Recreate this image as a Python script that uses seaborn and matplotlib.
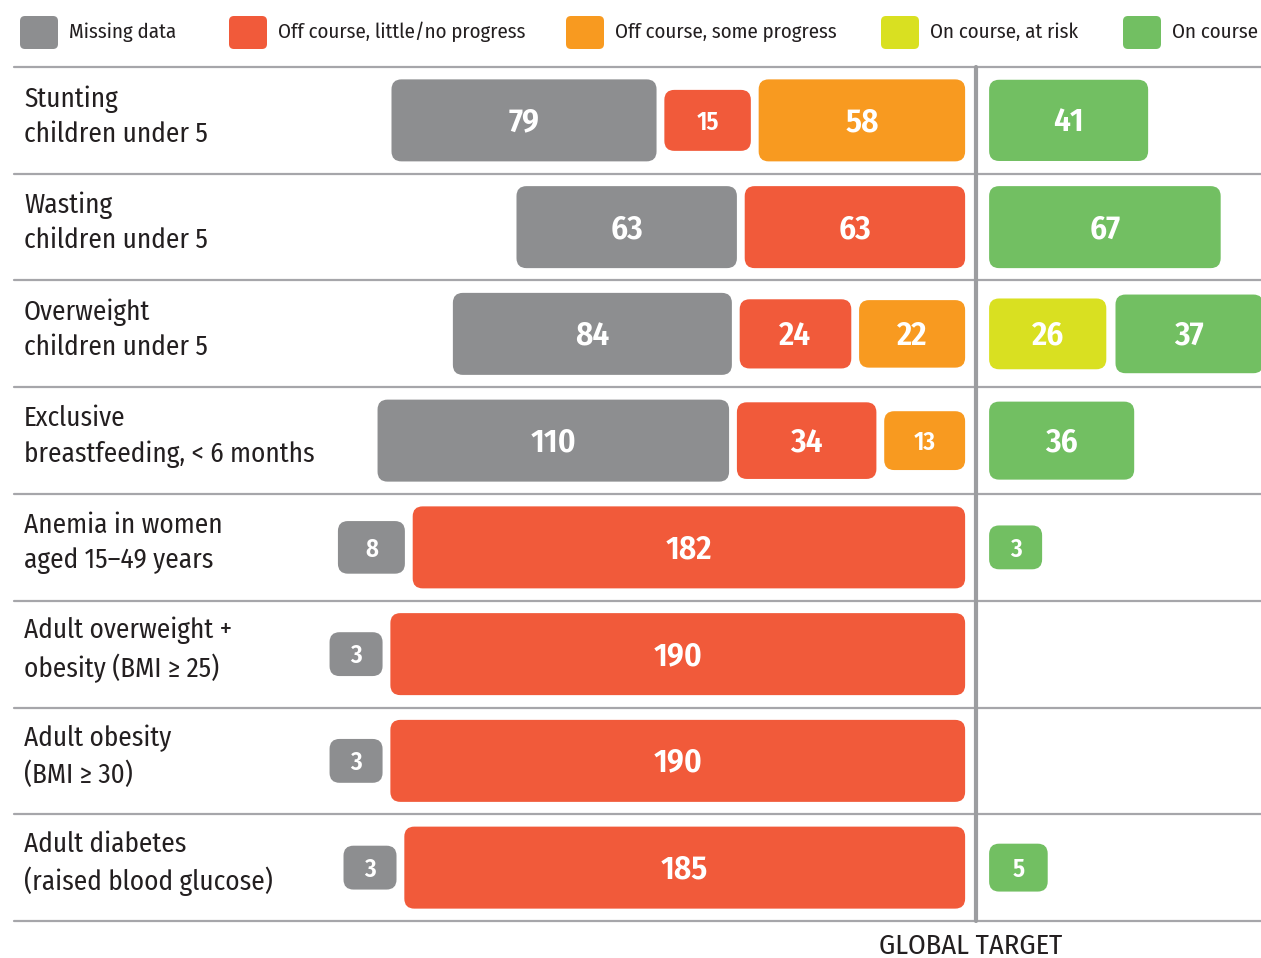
import numpy as np
import pandas as pd
import matplotlib as mpl
import matplotlib.pyplot as plt
import matplotlib.font_manager as fm
import seaborn as sns
from matplotlib.patches import FancyBboxPatch

# data (number of countries per status)
indicators = [
    'Stunting\nchildren under 5',
    'Wasting\nchildren under 5',
    'Overweight\nchildren under 5',
    'Exclusive\nbreastfeeding, < 6 months',
    'Anemia in women\naged 15–49 years',
    'Adult overweight +\nobesity (BMI ≥ 25)',
    'Adult obesity\n(BMI ≥ 30)',
    'Adult diabetes\n(raised blood glucose)',
]
missing = [79, 63, 84, 110, 8, 3, 3, 3]
off_little = [15, 63, 24, 34, 182, 190, 190, 185]
off_some = [58, 0, 22, 13, 0, 0, 0, 0]
at_risk = [0, 0, 26, 0, 0, 0, 0, 0]
on_course = [41, 67, 37, 36, 3, 0, 0, 5]

status_names = ['Missing data', 'Off course, little/no progress',
                'Off course, some progress', 'On course, at risk', 'On course']
status_colors = ['#8d8e90', '#f15a3a', '#f89a20', '#d9e021', '#72bf62']

sns.set_theme(style='white')
# a condensed sans if there is one, else the plain ones
have = {f.name for f in fm.fontManager.ttflist}
fam = [f for f in ['Fira Sans Condensed', 'PT Sans Narrow', 'IBM Plex Sans Condensed',
                   'Asap Condensed', 'Liberation Sans Narrow', 'Roboto Condensed',
                   'Roboto', 'DejaVu Sans'] if f in have]
plt.rcParams['font.family'] = fam + ['DejaVu Sans']
txt_color = '#231f20'
line_color = '#a6a6aa'

df = pd.DataFrame({'indicator': indicators, 'missing': missing,
                   'off_little': off_little, 'off_some': off_some,
                   'at_risk': at_risk, 'on_course': on_course})

fig = plt.figure(figsize=(12.61, 9.58), dpi=100)
ax = fig.add_axes([0, 0, 1, 1])
S = 2.79      # px per country
ROW = 106.75  # px per row
ax.set_xlim(-976 / S, 285 / S)
ax.set_ylim((958 - 67) / ROW - 0.5, -0.5 - 67 / ROW)
ax.axis('off')

pad = 16       # minimum bar length so labels fit
gap = 2.8
asp = S / ROW


def bar_height(v):
    return min(82, 30 + 8 * np.sqrt(v)) / ROW


def rbar(left, yc, v, color):
    w = v + pad
    h = bar_height(v)
    ax.add_patch(FancyBboxPatch((left, yc - h / 2), w, h,
                                boxstyle='round,pad=0,rounding_size=%f' % (10 / S),
                                mutation_aspect=asp, fc=color, ec='none', zorder=3))
    fs = 24 if h * ROW >= 64 else 18
    ax.text(left + w / 2, yc + 0.02, str(v), color='white', fontsize=fs,
            fontweight='semibold', ha='center', va='center', zorder=4)
    return w


cols_left = ['missing', 'off_little', 'off_some']
cols_right = ['at_risk', 'on_course']
for i, row in df.iterrows():
    # left side: right-aligned against the target line
    cur = -3.9
    for k, c in reversed(list(enumerate(cols_left))):
        v = row[c]
        if v:
            w = v + pad
            rbar(cur - w, i, v, status_colors[k])
            cur = cur - w - gap
    cur = 4.7
    for k, c in enumerate(cols_right):
        v = row[c]
        if v:
            w = rbar(cur, i, v, status_colors[3 + k])
            cur = cur + w + gap + 0.5
    ax.text((24 - 976) / S, i - 0.04, row['indicator'], fontsize=19.5, color=txt_color,
            ha='left', va='center', linespacing=1.38)

# grid lines and target line
for k in range(len(indicators) + 1):
    ax.plot([(14 - 976) / S, 285 / S], [k - 0.5, k - 0.5], color=line_color, lw=1.6, zorder=1)
ax.plot([0, 0], [-0.5, len(indicators) - 0.5], color='#9c9da0', lw=3, zorder=2)
ax.text(-5 / S, len(indicators) - 0.5 + 25 / ROW, 'GLOBAL TARGET', fontsize=20.5,
        color=txt_color, ha='center', va='center')

# legend strip on top
leg_x = [20, 229, 566, 881, 1123]
for x0, name, col in zip(leg_x, status_names, status_colors):
    ax.add_patch(FancyBboxPatch(((x0 - 976) / S, -0.5 - 51 / ROW), 38 / S, 33 / ROW,
                                boxstyle='round,pad=0,rounding_size=%f' % (5 / S),
                                mutation_aspect=asp, fc=col, ec='none', clip_on=False))
    ax.text((x0 + 49 - 976) / S, -0.5 - 35 / ROW, name, fontsize=15, color=txt_color,
            ha='left', va='center')

fig.savefig('out.png', dpi=100)
